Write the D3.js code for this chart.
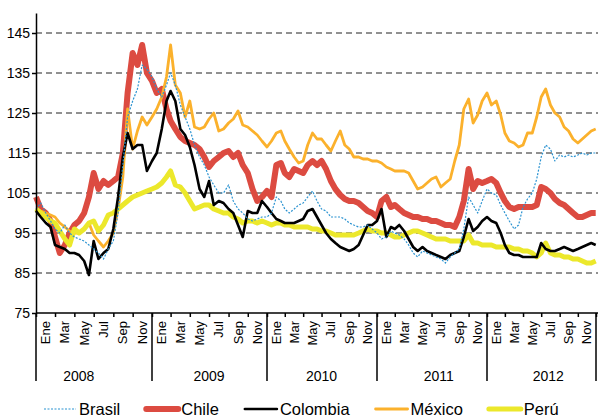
<!DOCTYPE html>
<html>
<head>
<meta charset="utf-8">
<script src="https://cdn.jsdelivr.net/npm/d3@7"></script>
<style>
body { margin: 0; background: #fff; }
text { font-family: "Liberation Sans", Arial, sans-serif; fill: #000; }
</style>
</head>
<body>
<div></div>
<script>
var width = 598;
var height = 417;

var years = [2008, 2009, 2010, 2011, 2012];
var yearLabelDates = ["2008-05-15", "2009-07-01", "2010-07-01", "2011-07-25", "2012-07-25"];
var monthLabels = ["Ene", "Mar", "May", "Jul", "Sep", "Nov"];
var yTicks = [75, 85, 95, 105, 115, 125, 135, 145];
var names = ["Brasil", "Chile", "Colombia", "México", "Perú"];

// one value per half month (1st and 16th), last one is end of 2012
var brasil = [
	101, 102.5, 100, 98, 96, 95, 97, 95, 94, 93.5, 93, 92, 91, 90, 88.5, 91, 93, 100, 112, 124, 128, 131, 137, 136,
	134, 131, 129, 132, 135, 132, 127, 124, 121, 117, 114, 112, 109, 107, 105, 105, 107, 103, 101, 100, 98.5, 98, 98.5, 99,
	99, 100, 104, 103, 101, 100, 101, 102, 102.5, 104, 105.5, 103, 101, 100.5, 99, 99, 99, 98.5, 97.5, 97, 96.5, 96.5, 97, 96,
	95, 93.5, 94, 95.5, 95, 94.5, 93.5, 92, 90, 89, 90.5, 90, 89.5, 89, 88.5, 87.5, 89, 90, 91, 96, 104, 102, 100, 103,
	106, 105, 104.5, 102, 100, 98, 96, 97, 101.5, 103.5, 105, 108.5, 114, 117, 116, 113, 114.5, 114, 114.5, 114, 114.5, 115, 114.5, 115, 115
];
var chile = [
	104, 101, 100, 98, 94, 90, 92, 95, 97, 98, 100, 104, 110, 106, 108, 107, 108, 109, 115, 130, 140, 137, 142, 135,
	133, 130, 131, 126, 123, 121, 119, 118, 117.5, 117, 116, 114, 111.5, 113, 114, 115, 115.5, 114, 115, 112, 110, 106, 103, 104,
	105.5, 104, 112, 112.5, 110, 109, 111, 110.5, 110, 112, 113, 112, 113, 111, 108, 106, 104.5, 103.5, 103, 103, 102.5, 101.5, 100.5, 100,
	99, 103, 104, 101.5, 102, 101, 100, 99.5, 99, 99, 98.5, 98.5, 98, 98, 97.5, 97, 97, 96.5, 99, 103, 111, 106, 108, 107.5,
	108, 108.5, 107.5, 105, 103, 101.5, 101, 101.5, 101.5, 101.5, 101.5, 102, 106.5, 106, 105, 103.5, 102.5, 102, 101, 100, 99, 99, 99.5, 100, 100
];
var colombia = [
	100.5, 99, 97.5, 96.5, 92, 91.5, 91, 90, 90, 89.5, 88, 84.5, 93, 88.5, 90, 91, 96, 104, 114, 120, 116, 117, 117, 110.5,
	113, 115, 121, 128, 130.5, 128, 121, 119.5, 116.5, 112, 106, 104, 108, 102, 103, 102.5, 101, 100, 97, 94, 100.5, 100, 100, 103,
	101.5, 100, 98.5, 98, 97.5, 97.5, 97.5, 98, 98.5, 100.5, 101, 99, 97, 95, 93.5, 92.5, 91.5, 91, 90.5, 91, 92, 94.5, 97, 97,
	98, 101, 94, 96.5, 96, 97, 95.5, 93.5, 91.5, 90.5, 91.5, 90.5, 90, 89.5, 89, 88.5, 89.5, 90, 90.5, 94, 98.5, 95.5, 96.5, 98,
	99, 98, 97.5, 95, 92, 90, 89.5, 89.5, 89, 89, 89, 89, 92.5, 91, 90.5, 90.5, 91, 91.5, 91, 90.5, 91, 91.5, 92, 92.5, 92
];
var mexico = [
	101, 100.5, 100, 99.5, 99, 97.5, 96.5, 95.5, 95, 95, 96, 97.5, 94.5, 93, 91.5, 93, 95, 101, 109, 126, 116, 120.5, 124, 122,
	124, 126, 129, 134, 142, 132, 130, 124, 128, 121.5, 121, 121.5, 123.5, 125, 120.5, 121, 122.5, 123.5, 125.5, 122, 121.5, 120.5, 119.5, 118,
	116.5, 118, 120, 120.5, 118, 116, 114, 112.5, 113, 117, 120, 118.5, 118.5, 117, 115.5, 118, 120.5, 117, 116, 114, 114, 113.5, 113.5, 113,
	113, 112.5, 111.5, 111, 110.5, 110.5, 110.5, 110, 108, 106, 106.5, 107.5, 108.5, 109, 106.5, 107.5, 108.5, 113, 117, 126, 128.5, 122.5, 124.5, 128,
	130, 127, 128, 124.5, 120, 118, 117.5, 116.5, 117, 120, 120, 124, 129, 131, 127, 125, 124, 121.5, 120.5, 118.5, 117.5, 118.5, 119.5, 120.5, 121
];
var peru = [
	101, 100, 99, 98, 97.5, 95.5, 93.5, 92, 96, 95, 96, 97.5, 98, 95.5, 97, 99.5, 100, 101, 102, 103, 104, 104.5, 105, 105.5,
	106, 106.5, 107.5, 109, 110.5, 107, 106.5, 105, 103, 101, 101.5, 102, 102, 101, 100.5, 100, 100, 99, 98.5, 97.5, 98, 98, 97.5, 98,
	97.5, 97, 97.5, 97.5, 97, 97, 96.5, 96.5, 96.5, 96.5, 96, 96, 95.5, 95.5, 95, 94.5, 94.5, 94.5, 94.5, 94.5, 95, 95.5, 96, 95.5,
	95.5, 95, 95, 94.5, 94, 94, 94.5, 95, 95.5, 95.5, 95, 94.5, 94, 93.5, 93.5, 93.5, 93, 93, 93, 93, 94.5, 92.5, 92.5, 92,
	92, 92, 91.5, 91.5, 91.5, 91.5, 91, 91, 90.5, 90.5, 90, 89, 90, 92.5, 90, 89.5, 89.5, 89, 89, 88.5, 88.5, 88, 87.5, 87.5, 88
];

var dates = [];
years.forEach(yr => {
	d3.range(12).forEach(m => {
		dates.push(new Date(yr, m, 1));
		dates.push(new Date(yr, m, 16));
	});
});
dates.push(new Date(2012, 11, 31));

var series = [
	{ name: "Chile", values: chile, color: "#dc4b41", width: 6, dash: null },
	{ name: "México", values: mexico, color: "#fbb12c", width: 2.8, dash: null },
	{ name: "Perú", values: peru, color: "#ece82b", width: 5, dash: null },
	{ name: "Colombia", values: colombia, color: "#000000", width: 2.6, dash: null },
	{ name: "Brasil", values: brasil, color: "#2b93d1", width: 1.2, dash: "2,1.5" }
];

var yearEdges = years.map(yr => new Date(yr, 0, 1)).concat([new Date(2013, 0, 1)]);

var plotLeft = 36, plotRight = 598, plotTop = 13, plotBottom = 313;

var x = d3.scaleTime()
	.domain(yearEdges)
	.range([plotLeft, 152, 267, 377, 487, 596]);

var y = d3.scaleLinear()
	.domain([75, 150])
	.range([plotBottom, plotTop]);

var svg = d3.select("div")
	.append("svg")
	.attr("width", width)
	.attr("height", height);

// dashed grid
svg.append("g")
	.selectAll("line")
	.data(yTicks.filter(t => t > 75))
	.enter()
	.append("line")
	.attr("x1", plotLeft)
	.attr("x2", plotRight)
	.attr("y1", d => y(d))
	.attr("y2", d => y(d))
	.attr("stroke", "#222")
	.attr("stroke-width", 1)
	.attr("stroke-dasharray", "6,4");

// lines
var line = d3.line()
	.x((d, i) => x(dates[i]))
	.y(d => y(d));

svg.append("g")
	.selectAll("path")
	.data(series)
	.enter()
	.append("path")
	.attr("d", s => line(s.values))
	.attr("fill", "none")
	.attr("stroke", s => s.color)
	.attr("stroke-width", s => s.width)
	.attr("stroke-linejoin", "round")
	.attr("stroke-dasharray", s => s.dash);

// y axis
var yAxis = svg.append("g")
	.attr("transform", "translate(" + plotLeft + ",0)")
	.call(d3.axisLeft(y).tickValues(yTicks).tickSize(4).tickSizeOuter(0).tickPadding(2));
yAxis.selectAll("text").attr("font-size", 14).attr("font-family", null);
yAxis.selectAll("line, path").attr("stroke", "#000").attr("stroke-width", 1.5);

// x axis
var monthTicks = [];
years.forEach(yr => d3.range(0, 12, 2).forEach(m => monthTicks.push(new Date(yr, m, 1))));
monthTicks.push(new Date(2013, 0, 1));

var xAxis = svg.append("g")
	.attr("transform", "translate(0," + plotBottom + ")")
	.call(d3.axisBottom(x).tickValues(monthTicks).tickSize(4).tickSizeOuter(0).tickFormat(""));
xAxis.select(".domain").attr("d", "M" + plotLeft + ",0H" + plotRight);
xAxis.selectAll("line, path").attr("stroke", "#000").attr("stroke-width", 1.5);

svg.append("g")
	.selectAll("line")
	.data(yearEdges)
	.enter()
	.append("line")
	.attr("x1", d => x(d))
	.attr("x2", d => x(d))
	.attr("y1", plotBottom)
	.attr("y2", 381)
	.attr("stroke", "#000")
	.attr("stroke-width", 1.5);

var monthPos = [];
years.forEach(yr => monthLabels.forEach((lab, i) => monthPos.push({ label: lab, date: new Date(yr, 2 * i + 1, 1) })));

svg.append("g")
	.selectAll("text")
	.data(monthPos)
	.enter()
	.append("text")
	.attr("transform", d => "translate(" + x(d.date) + ",321) rotate(-90)")
	.attr("text-anchor", "end")
	.attr("dy", "0.35em")
	.attr("font-size", 13)
	.text(d => d.label);

var parseDay = d3.timeParse("%Y-%m-%d");
svg.append("g")
	.selectAll("text")
	.data(years)
	.enter()
	.append("text")
	.attr("x", (yr, i) => x(parseDay(yearLabelDates[i])))
	.attr("y", 381)
	.attr("text-anchor", "middle")
	.attr("font-size", 14)
	.text(yr => yr);

// legend
var legendOrder = names.map(n => series.find(s => s.name == n));
var lx = 44;
legendOrder.forEach(s => {
	svg.append("line")
		.attr("x1", lx)
		.attr("x2", lx + 32)
		.attr("y1", 409)
		.attr("y2", 409)
		.attr("stroke", s.color)
		.attr("stroke-width", s.width)
		.attr("stroke-linecap", s.dash ? "butt" : "round")
		.attr("stroke-dasharray", s.dash);
	var t = svg.append("text")
		.attr("x", lx + 35)
		.attr("y", 415)
		.attr("font-size", 16.5)
		.text(s.name);
	lx = lx + 35 + t.node().getComputedTextLength() + 26;
});
</script>
</body>
</html>
